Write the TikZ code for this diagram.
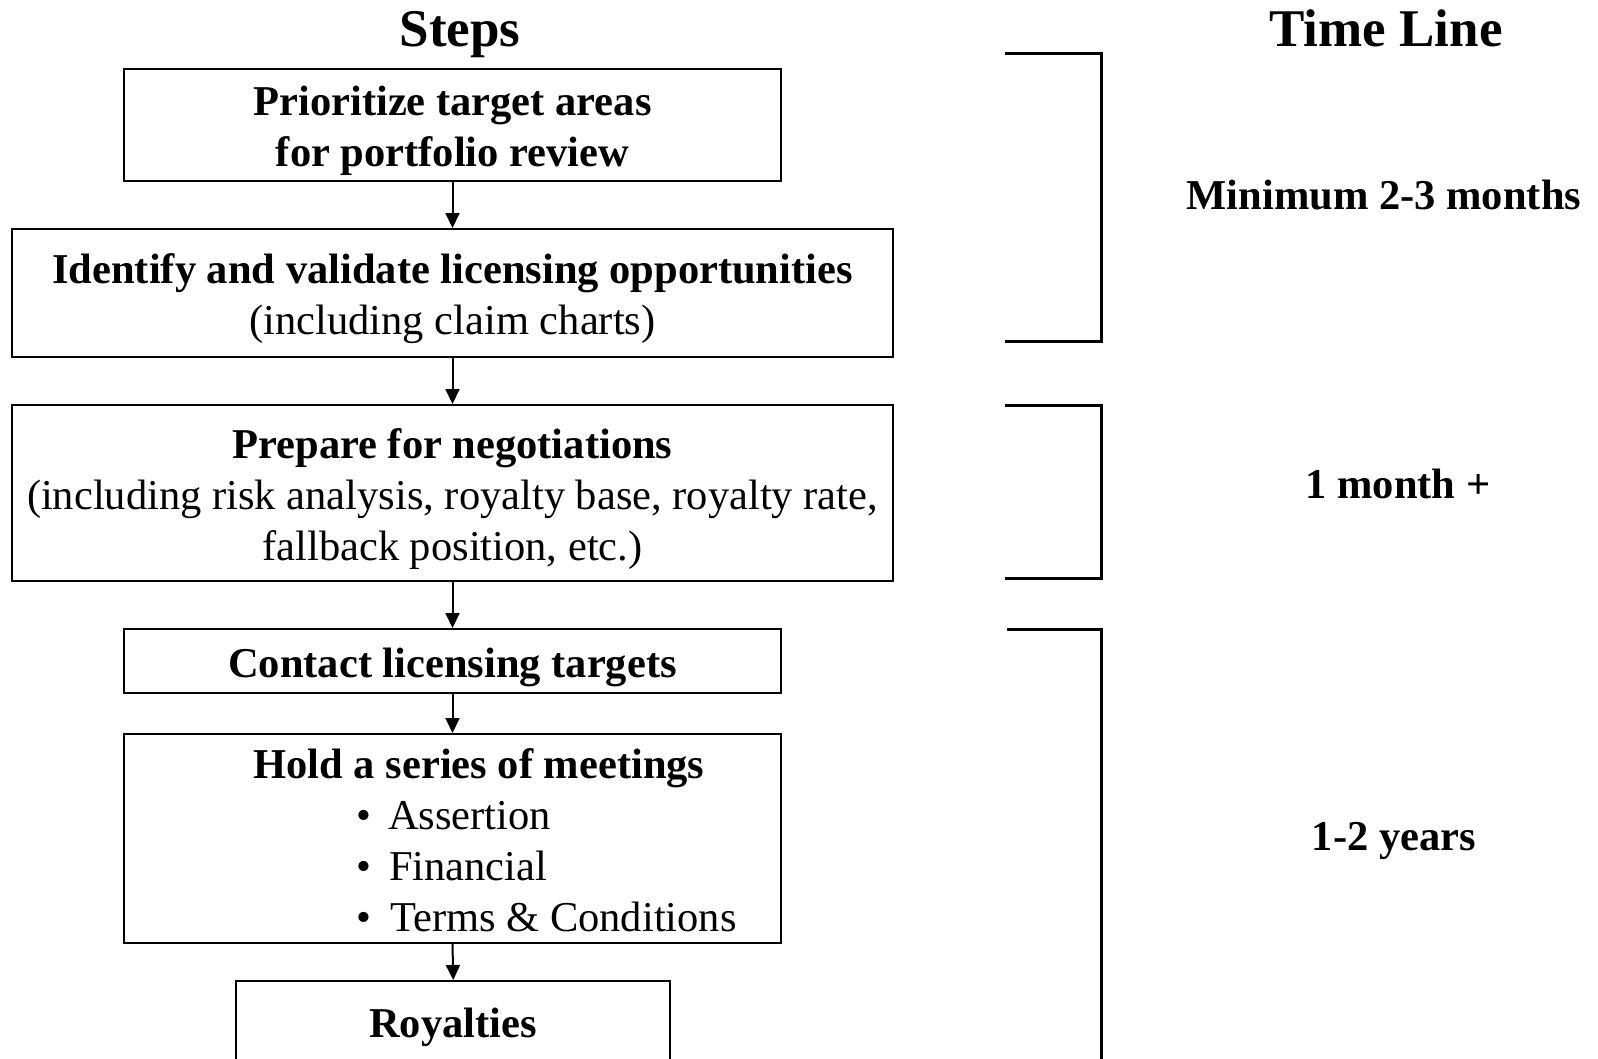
\documentclass[tikz,border=0pt]{standalone}
\usepackage{fontspec}
\setmainfont{Liberation Serif}
\usetikzlibrary{arrows.meta}
\begin{document}
\begin{tikzpicture}[x=1pt,y=-1pt,
  plainbox/.style={draw,line width=2pt,inner sep=0pt},
  txt/.style={inner sep=0pt,align=center,font=\fontsize{42.5}{51}\selectfont},
  flow/.style={line width=2pt,-{Triangle[width=14pt,length=15pt]}},
  bracket/.style={line width=3pt},
  head/.style={inner sep=0pt,anchor=base,font=\fontsize{53}{60}\selectfont\bfseries},
  period/.style={inner sep=0pt,anchor=base,font=\fontsize{42.5}{51}\selectfont\bfseries}]
\useasboundingbox (0,0) rectangle (1598,1058);
\clip (0,0) rectangle (1598,1058);

% column headings
\node[head] (hsteps) at (460,46) {Steps};
\node[head] (htime) at (1386,46) {Time Line};

% process step frames
\node[plainbox,minimum width=657pt,minimum height=112pt] (b1) at (452.5,125) {};
\node[plainbox,minimum width=881pt,minimum height=128pt] (b2) at (452.5,293) {};
\node[plainbox,minimum width=881pt,minimum height=176pt] (b3) at (452.5,493) {};
\node[plainbox,minimum width=657pt,minimum height=64pt] (b4) at (452.5,661) {};
\node[plainbox,minimum width=657pt,minimum height=209pt] (b5) at (452.5,838.5) {};
\node[plainbox,minimum width=434pt,minimum height=160pt] (b6) at (453.25,1061) {};

% step texts
\node[txt] (b1text) at (452.5,131)
  {\textbf{Prioritize target areas}\\\textbf{for portfolio review}};
\node[txt] (b2text) at (452.5,299)
  {\textbf{Identify and validate licensing opportunities}\\(including claim charts)};
\node[txt] (b3text) at (452.5,499)
  {\textbf{Prepare for negotiations}\\(including risk analysis, royalty base, royalty rate,\\fallback position, etc.)};
\node[txt] (b4text) at (452.5,667) {\textbf{Contact licensing targets}};
\node[txt] (b5head) at (479,768) {\textbf{Hold a series of meetings}};
\node[txt,align=left,anchor=north west] (b5list) at (356,801)
  {\makebox[32pt][l]{•}Assertion\\\makebox[33pt][l]{•}Financial\\\makebox[34pt][l]{•}Terms \& Conditions};
\node[txt] (b6text) at (453,1027) {\textbf{Royalties}};

% flow arrows
\draw[flow] (b1.south) -- (b2.north);
\draw[flow] (b2.south) -- (b3.north);
\draw[flow] (b3.south) -- (b4.north);
\draw[flow] (b4.south) -- (b5.north);
\draw[flow] (b5.south) -- (b6.north);

% time line brackets
\draw[bracket] (1005,53) -| (1101,341) -- (1005,341);
\draw[bracket] (1005,405) -| (1101,578) -- (1005,578);
\draw[bracket] (1007,629) -| (1101,1070);

% durations
\node[period] (t1) at (1384,209) {Minimum 2-3 months};
\node[period] (t2) at (1398,498) {1 month +};
\node[period] (t3) at (1394,850) {1-2 years};
\end{tikzpicture}
\end{document}
